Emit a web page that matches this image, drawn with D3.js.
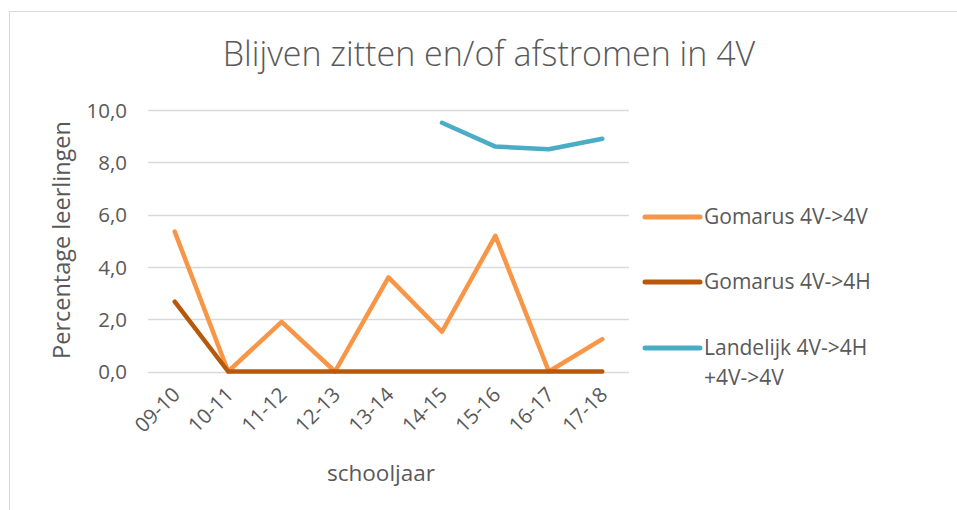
<!DOCTYPE html>
<html>
<head>
<meta charset="utf-8">
<script src="https://cdn.jsdelivr.net/npm/d3@7"></script>
<style>
  body { margin: 0; background: #fff; }
  svg text { font-family: "Open Sans", "Noto Sans", sans-serif; fill: #595959; }
</style>
</head>
<body>
<div id="chart"></div>
<script>
// chart values
let years = ["09-10", "10-11", "11-12", "12-13", "13-14", "14-15", "15-16", "16-17", "17-18"];
let gomarusVV = [5.35, 0, 1.9, 0, 3.6, 1.52, 5.19, 0, 1.24];
let gomarusVH = [2.67, 0, 0, 0, 0, 0, 0, 0, 0];
let landelijk = [null, null, null, null, null, 9.51, 8.6, 8.5, 8.9];
let yTicks = [0, 2, 4, 6, 8, 10];

let seriesNames = ["Gomarus 4V->4V", "Gomarus 4V->4H", "Landelijk 4V->4H +4V->4V"];
let seriesColors = ["#F79646", "#B7580B", "#4BACC6"];

let width = 957;
let height = 510;

let series = [gomarusVV, gomarusVH, landelijk].map((vals, i) => ({
  name: seriesNames[i],
  color: seriesColors[i],
  values: vals.map((v, j) => ({ year: years[j], value: v }))
}));

let svg = d3.select("#chart").append("svg")
  .attr("width", width)
  .attr("height", height);

// outer frame
svg.append("path")
  .attr("d", `M9.5,${height}V11.5H${width}`)
  .attr("fill", "none")
  .attr("stroke", "#D9D9D9")
  .attr("stroke-width", 1);

let scaleX = d3.scalePoint()
  .domain(years)
  .range([148, 629])
  .padding(0.5);

let scaleY = d3.scaleLinear()
  .domain([0, 10])
  .range([371.5, 110]);

// gridlines
svg.append("g").selectAll("line")
  .data(yTicks)
  .join("line")
  .attr("x1", 148)
  .attr("x2", 629)
  .attr("y1", d => Math.round(scaleY(d)) + 0.5)
  .attr("y2", d => Math.round(scaleY(d)) + 0.5)
  .attr("stroke", "#D9D9D9")
  .attr("stroke-width", 1.5);

const axisY = d3.axisLeft(scaleY)
  .tickValues(yTicks)
  .tickFormat(d => d3.format(".1f")(d).replace(".", ","))
  .tickSize(0)
  .tickPadding(21);

let gy = svg.append("g")
  .attr("transform", "translate(148,0)")
  .call(axisY);
gy.select(".domain").remove();
gy.selectAll("text").attr("font-size", 20.5).attr("dy", "0.35em");

const axisX = d3.axisBottom(scaleX).tickSize(0).tickPadding(0);
let gx = svg.append("g")
  .attr("transform", "translate(0,372)")
  .call(axisX);
gx.select(".domain").remove();
gx.selectAll("text")
  .attr("font-size", 20.5)
  .attr("text-anchor", "end")
  .attr("dy", null)
  .attr("y", 0)
  .attr("transform", "translate(6,24) rotate(-45)");

// lines
let line = d3.line()
  .defined(d => d.value != null)
  .x(d => scaleX(d.year))
  .y(d => scaleY(d.value));

svg.append("g").selectAll("path")
  .data(series)
  .join("path")
  .attr("d", d => line(d.values))
  .attr("fill", "none")
  .attr("stroke", d => d.color)
  .attr("stroke-width", 4.5)
  .attr("stroke-linejoin", "round")
  .attr("stroke-linecap", "round");

// titles
svg.append("text")
  .attr("x", 489)
  .attr("y", 66)
  .attr("text-anchor", "middle")
  .attr("font-size", 34)
  .attr("font-weight", 300)
  .text("Blijven zitten en/of afstromen in 4V");

svg.append("text")
  .attr("transform", "translate(70,240) rotate(-90)")
  .attr("text-anchor", "middle")
  .attr("font-size", 23.5)
  .text("Percentage leerlingen");

svg.append("text")
  .attr("x", 381)
  .attr("y", 481)
  .attr("text-anchor", "middle")
  .attr("font-size", 22.5)
  .text("schooljaar");

// legend
let legendY = [217, 282, 348];
let legend = svg.append("g").selectAll("g")
  .data(series)
  .join("g")
  .attr("transform", (d, i) => `translate(645,${legendY[i]})`);

legend.append("line")
  .attr("x1", 0)
  .attr("x2", 55)
  .attr("stroke", d => d.color)
  .attr("stroke-width", 5)
  .attr("stroke-linecap", "round");

legend.append("text")
  .attr("x", 59)
  .attr("font-size", 21)
  .each(function(d) {
    let t = d3.select(this);
    let parts = d.name.split(" +");
    parts.forEach((p, k) => {
      t.append("tspan")
        .attr("x", 59)
        .attr("dy", k === 0 ? "0.35em" : "1.4em")
        .text(k === 0 ? p : "+" + p);
    });
  });
</script>
</body>
</html>
